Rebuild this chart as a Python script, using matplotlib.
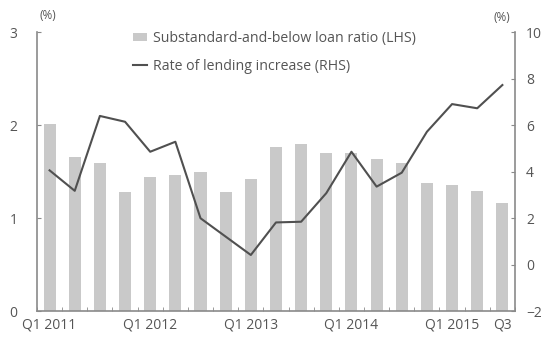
import matplotlib as mpl
mpl.use('Agg')
import matplotlib.pyplot as plt
import numpy as np

mpl.rc('font', family='Open Sans', size=10)

quarters = ['Q1 2011', 'Q2 2011', 'Q3 2011', 'Q4 2011',
            'Q1 2012', 'Q2 2012', 'Q3 2012', 'Q4 2012',
            'Q1 2013', 'Q2 2013', 'Q3 2013', 'Q4 2013',
            'Q1 2014', 'Q2 2014', 'Q3 2014', 'Q4 2014',
            'Q1 2015', 'Q2 2015', 'Q3 2015']
loan_ratio = [2.01, 1.66, 1.59, 1.28, 1.44, 1.46, 1.50, 1.28, 1.42, 1.76,
              1.80, 1.70, 1.70, 1.63, 1.59, 1.38, 1.35, 1.29, 1.16]
lending_rate = [4.05, 3.17, 6.39, 6.14, 4.85, 5.28, 1.99, 1.2, 0.41, 1.81,
                1.84, 3.07, 4.85, 3.35, 3.95, 5.71, 6.9, 6.72, 7.72]
tick_pos = [0, 4, 8, 12, 16, 18]
tick_labels = ['Q1 2011', 'Q1 2012', 'Q1 2013', 'Q1 2014', 'Q1 2015', 'Q3']

BAR_COL = '#c9c9c9'
LINE_COL = '#505050'
AXIS_COL = '#8a8a8a'
TEXT_COL = '#555555'


def main():
    fig = plt.figure(figsize=(5.49, 3.42), dpi=100)
    ax = fig.add_axes([0.0674, 0.0906, 0.8706, 0.8158])
    x = np.arange(len(quarters))
    bars = ax.bar(x, loan_ratio, width=0.48, color=BAR_COL,
                  label='Substandard-and-below loan ratio (LHS)')
    ax.set_xlim(-0.5, len(quarters) - 0.5)
    ax.set_ylim(0, 3)
    ax.set_yticks([0, 1, 2, 3])
    ax.set_xticks(tick_pos)
    ax.set_xticklabels(tick_labels)
    ax.set_xticks(np.arange(-0.5, len(quarters), 1), minor=True)
    ax.tick_params(axis='x', which='major', length=0, pad=5, colors=TEXT_COL)
    ax.tick_params(axis='x', which='minor', direction='in', length=3, color=AXIS_COL)
    ax.tick_params(axis='y', direction='in', length=3, color=AXIS_COL,
                   colors=TEXT_COL, pad=14)
    for s in ['top', 'right']:
        ax.spines[s].set_visible(False)
    for s in ['left', 'bottom']:
        ax.spines[s].set_color(AXIS_COL)
        ax.spines[s].set_linewidth(1.2)

    ax2 = ax.twinx()
    line, = ax2.plot(x, lending_rate, color=LINE_COL, lw=1.5,
                     label='Rate of lending increase (RHS)')
    ax2.set_ylim(-2, 10)
    ax2.set_yticks(np.arange(-2, 11, 2))
    ax2.tick_params(axis='y', direction='in', length=3, color=AXIS_COL,
                    colors=TEXT_COL, pad=8)
    for s in ['top', 'left', 'bottom']:
        ax2.spines[s].set_visible(False)
    ax2.spines['right'].set_color(AXIS_COL)
    ax2.spines['right'].set_linewidth(1.2)

    fig.text(0.087, 0.955, '(%)', fontsize=8.5, color=TEXT_COL, ha='center', va='center')
    fig.text(0.915, 0.95, '(%)', fontsize=8.5, color=TEXT_COL, ha='center', va='center')

    leg = fig.legend([bars, line], [bars.get_label(), line.get_label()],
                     loc='upper left', bbox_to_anchor=(0.242, 1 - 31 / 342),
                     frameon=False, borderpad=0, borderaxespad=0,
                     handlelength=1.0, handleheight=0.5, handletextpad=0.45,
                     labelspacing=0.9, fontsize=10.2)
    for t in leg.get_texts():
        t.set_color(TEXT_COL)

    fig.savefig('out.png', dpi=100)


if __name__ == '__main__':
    main()
